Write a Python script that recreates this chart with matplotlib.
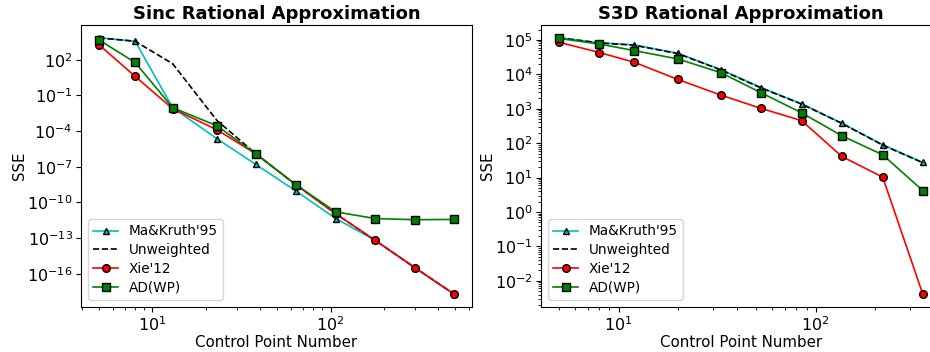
import matplotlib
matplotlib.use('Agg')
import matplotlib.pyplot as plt
from matplotlib.ticker import NullLocator

# Sinc
sinc_n = [5, 8, 13, 23, 38, 64, 107, 178, 297, 495]
sinc_ma = [7000, 3600, 9.3e-3, 2.3e-5, 1.6e-7, 9e-10, 4.4e-12, 6.5e-14, 3.3e-16, 1.9e-18]
sinc_unw = [7000, 3600, 46, 8e-4, 1.25e-6, 3e-9, 1.1e-11, 6.5e-14, 3.3e-16, 1.9e-18]
sinc_xie = [1900, 4, 7.6e-3, 1.3e-4, 1.25e-6, 3e-9, 1.1e-11, 6.5e-14, 3.3e-16, 1.9e-18]
sinc_ad = [4800, 59, 9.3e-3, 2.8e-4, 1.25e-6, 3e-9, 1.6e-11, 4.4e-12, 3.5e-12, 3.7e-12]

# S3D
s3d_n = [5, 8, 12, 20, 33, 53, 85, 136, 219, 350]
s3d_ma = [1.15e5, 8.2e4, 7.2e4, 4.1e4, 1.38e4, 4.1e3, 1.39e3, 380, 90, 27.5]
s3d_unw = [1.15e5, 8.2e4, 7.0e4, 4.0e4, 1.35e4, 4.0e3, 1.36e3, 375, 88, 27]
s3d_xie = [8.5e4, 4.3e4, 2.25e4, 7.1e3, 2.5e3, 1.02e3, 450, 41, 10.3, 0.0041]
s3d_ad = [1.1e5, 7.6e4, 4.9e4, 2.8e4, 1.12e4, 2.9e3, 760, 164, 46, 4.2]

fig = plt.figure(figsize=(9.3, 3.52), dpi=100)
ax1 = fig.add_axes([81/930, 45/352, 391/930, 282/352])
ax2 = fig.add_axes([541/930, 45/352, 400/930, 282/352])

def dibujar(ax, n, ma, unw, xie, ad, titulo):
    ax.plot(n, ma, color='c', marker='^', markeredgecolor='k', markersize=5, linewidth=1.2, label="Ma&Kruth'95")
    ax.plot(n, unw, 'k--', linewidth=1.2, label='Unweighted')
    ax.plot(n, xie, color='r', marker='o', markeredgecolor='k', markersize=5.5, linewidth=1.2, label="Xie'12")
    ax.plot(n, ad, color='g', marker='s', markeredgecolor='k', markersize=5.5, linewidth=1.2, label='AD(WP)')
    ax.set_xscale('log')
    ax.set_yscale('log')
    ax.set_title(titulo, fontsize=13, fontweight='bold', pad=4)
    ax.set_xlabel('Control Point Number', fontsize=10.8, labelpad=1)
    ax.set_ylabel('SSE', fontsize=10.8, labelpad=0)
    ax.tick_params(labelsize=11.5, pad=2.5)
    ax.legend(loc='lower left', fontsize=9.8, handlelength=1.8, labelspacing=0.35)

dibujar(ax1, sinc_n, sinc_ma, sinc_unw, sinc_xie, sinc_ad, 'Sinc Rational Approximation')
ax1.set_yticks([1e2, 1e-1, 1e-4, 1e-7, 1e-10, 1e-13, 1e-16])
ax1.yaxis.set_minor_locator(NullLocator())

dibujar(ax2, s3d_n, s3d_ma, s3d_unw, s3d_xie, s3d_ad, 'S3D Rational Approximation')

fig.savefig('out.png', dpi=100)
